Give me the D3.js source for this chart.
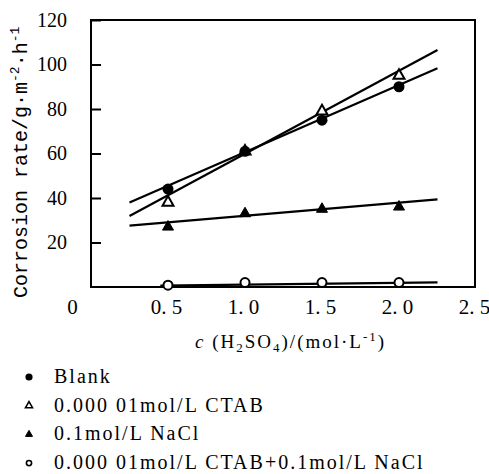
<!DOCTYPE html>
<html>
<head>
<meta charset="utf-8">
<script src="https://cdn.jsdelivr.net/npm/d3@7"></script>
<style>
html,body{margin:0;padding:0;background:#fff;}
svg{display:block;}
</style>
</head>
<body>
<svg id="chart" width="489" height="474"></svg>
<script>
// ---- data ----
const concentrations = [0.5, 1.0, 1.5, 2.0];
const blank = [44, 61, 75, 90];
const ctab = [38, 61, 79, 95];
const nacl = [27, 33, 35, 36];
const ctabNacl = [0.8, 2, 2, 2];
// fitted straight lines (start / end)
const fitX = [0.25, 2.25];
const fitBlank = [38, 98.3];
const fitCtab = [31.9, 106.5];
const fitNacl = [27.6, 39.4];
const fitCtabNaclX = [0.45, 2.25];
const fitCtabNacl = [0.6, 2.1];
const xTickValues = [0, 0.5, 1.0, 1.5, 2.0, 2.5];
const xTickLabels = ["0", "0. 5", "1. 0", "1. 5", "2. 0", "2. 5"];
const yTickValues = [20, 40, 60, 80, 100, 120];
const legendLabels = ["Blank", "0.000 01mol/L CTAB", "0.1mol/L NaCl", "0.000 01mol/L CTAB+0.1mol/L NaCl"];

const svg = d3.select("#chart");
const serif = "'Liberation Serif', 'Times New Roman', serif";
const mono = "'Liberation Mono', 'Courier New', monospace";

const L = 91, R = 475, T = 20, B = 287;
const x = d3.scaleLinear().domain([0, 2.5]).range([L, R + 1]);
const y = d3.scaleLinear().domain([0, 120]).range([B, T]);

// frame
svg.append("rect").attr("x", L).attr("y", T).attr("width", R - L).attr("height", B - T)
  .attr("fill", "none").attr("stroke", "#000").attr("stroke-width", 2);

// y axis (ticks inward)
const yAxis = d3.axisLeft(y).tickValues(yTickValues).tickSize(-10).tickPadding(24)
  .tickFormat(d => d);
const gy = svg.append("g").attr("transform", `translate(${L},0)`).call(yAxis);
gy.select(".domain").remove();
gy.selectAll(".tick line").attr("stroke", "#000").attr("stroke-width", 2);
gy.selectAll(".tick text").attr("font-family", serif).attr("font-size", 20).attr("fill", "#000");

// x axis
const xAxis = d3.axisBottom(x).tickValues(xTickValues).tickSize(0).tickPadding(12)
  .tickFormat((d, i) => xTickLabels[i]);
const gx = svg.append("g").attr("transform", `translate(0,${B})`).call(xAxis);
gx.select(".domain").remove();
gx.selectAll(".tick text").attr("font-family", serif).attr("font-size", 21).attr("fill", "#000")
  .attr("dx", d => d === 0 ? -19 : -2);

// axis titles
const xt = svg.append("text").attr("x", 195).attr("y", 348)
  .attr("font-family", serif).attr("font-size", 19).attr("letter-spacing", 2).attr("fill", "#000");
xt.append("tspan").attr("font-style", "italic").text("c");
xt.append("tspan").text(" (H");
xt.append("tspan").attr("font-size", 13).attr("dy", 4).text("2");
xt.append("tspan").attr("dy", -4).text("SO");
xt.append("tspan").attr("font-size", 13).attr("dy", 4).text("4");
xt.append("tspan").attr("dy", -4).text(")/(mol·L");
xt.append("tspan").attr("font-size", 13).attr("dy", -7).text("-1");
xt.append("tspan").attr("dy", 7).text(")");

const yt = svg.append("text").attr("transform", "translate(27,298) rotate(-90)")
  .attr("font-family", mono).attr("font-size", 20).attr("fill", "#000");
yt.append("tspan").text("Corrosion rate/g·m");
yt.append("tspan").attr("font-size", 13).attr("dy", -8).text("-2");
yt.append("tspan").attr("dy", 8).text("·h");
yt.append("tspan").attr("font-size", 13).attr("dy", -8).text("-1");

// fit lines
const line = d3.line().x(d => x(d[0])).y(d => y(d[1]));
const fits = [
  [fitX, fitBlank], [fitX, fitCtab], [fitX, fitNacl], [fitCtabNaclX, fitCtabNacl]
];
fits.forEach(([xs, ys]) => {
  svg.append("path").datum(xs.map((v, i) => [v, ys[i]]))
    .attr("d", line).attr("fill", "none").attr("stroke", "#000").attr("stroke-width", 2.2);
});

// markers: s = circle radius / triangle side
function drawMarker(g, type, cx, cy, s, sw) {
  if (type === "fc") {
    g.append("circle").attr("cx", cx).attr("cy", cy).attr("r", s).attr("fill", "#000");
  } else if (type === "oc") {
    g.append("circle").attr("cx", cx).attr("cy", cy).attr("r", s - sw / 2).attr("fill", "#fff")
      .attr("stroke", "#000").attr("stroke-width", sw);
  } else {
    const sym = d3.symbol().type(d3.symbolTriangle).size(s * s * Math.sqrt(3) / 4);
    g.append("path").attr("d", sym()).attr("transform", `translate(${cx},${cy})`)
      .attr("fill", type === "ft" ? "#000" : "#fff").attr("stroke", "#000")
      .attr("stroke-width", type === "ft" ? 1 : sw);
  }
}
const seriesList = [
  {vals: ctabNacl, type: "oc", s: 5.5},
  {vals: nacl, type: "ft", s: 11},
  {vals: ctab, type: "ot", s: 11},
  {vals: blank, type: "fc", s: 5.5}
];
const mg = svg.append("g");
seriesList.forEach(s => {
  s.vals.forEach((v, i) => drawMarker(mg, s.type, x(concentrations[i]), y(v), s.s, 2));
});

// legend
const legendTypes = ["fc", "ot", "ft", "oc"];
const legendSizes = [3.6, 7, 7, 3.4];
const lg = svg.append("g");
legendLabels.forEach((lab, i) => {
  const cy = 377 + i * 28.7;
  drawMarker(lg, legendTypes[i], 29, cy, legendSizes[i], 1.6);
  lg.append("text").attr("x", 54).attr("y", cy + 6)
    .attr("font-family", serif).attr("font-size", 20).attr("letter-spacing", 2)
    .attr("fill", "#000").text(lab);
});
</script>
</body>
</html>
